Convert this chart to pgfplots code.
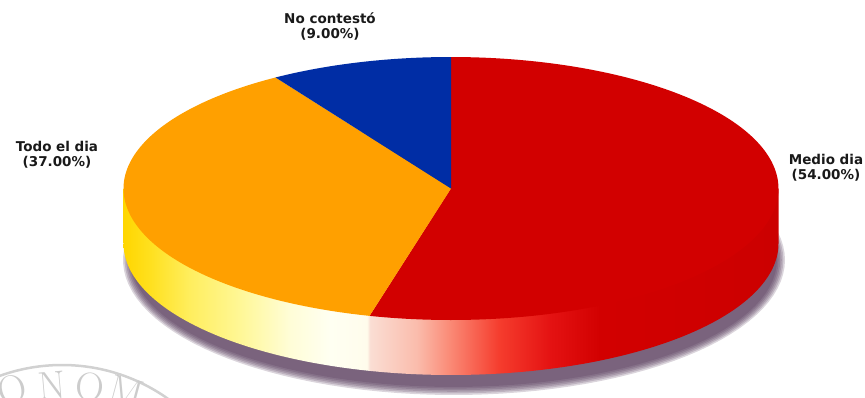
\documentclass[border=0pt]{standalone}
\usepackage{pgfplots}
\pgfplotsset{compat=1.18}
\usepackage{fontspec}
\newfontfamily\lab{DejaVu Sans}
\definecolor{cRed}{RGB}{210,0,0}
\definecolor{cOrange}{RGB}{255,160,0}
\definecolor{cBlue}{RGB}{0,45,165}
\definecolor{cShadow}{RGB}{75,45,80}
\definecolor{sY0}{RGB}{255,214,0}
\definecolor{sY1}{RGB}{255,224,30}
\definecolor{sY2}{RGB}{255,238,95}
\definecolor{sY3}{RGB}{255,247,150}
\definecolor{sY4}{RGB}{255,253,215}
\definecolor{sY5}{RGB}{255,255,242}
\definecolor{sY6}{RGB}{255,252,236}
\definecolor{sR0}{RGB}{250,222,212}
\definecolor{sR1}{RGB}{250,188,172}
\definecolor{sR2}{RGB}{250,138,118}
\definecolor{sR3}{RGB}{245,60,45}
\definecolor{sR4}{RGB}{228,18,18}
\definecolor{sR5}{RGB}{210,0,0}
\definecolor{sR6}{RGB}{204,0,0}
\pgfdeclarehorizontalshading{pieside}{100bp}{color(0bp)=(sY0); color(25bp)=(sY0); color(27bp)=(sY1); color(30.1bp)=(sY2); color(33.9bp)=(sY3); color(37.7bp)=(sY4); color(40.8bp)=(sY5); color(43.6bp)=(sY6); color(43.8bp)=(sR0); color(47.4bp)=(sR1); color(49.9bp)=(sR2); color(53.7bp)=(sR3); color(57.6bp)=(sR4); color(61.4bp)=(sR5); color(75bp)=(sR6); color(100bp)=(sR6)}
% data (percent)
\def\vMedio{54}
\def\vTodo{37}
\def\vNo{9}
\pgfmathsetmacro\aA{90-3.6*\vMedio}
\pgfmathsetmacro\aB{\aA-3.6*\vTodo}
\pgfmathsetmacro\aBp{\aB+360}
\pgfmathsetmacro\aAp{\aA+360}
\begin{document}
\begin{tikzpicture}
\clip (0,0) rectangle (865pt,397pt);
\begin{axis}[at={(0,0)},anchor=south west,width=865pt,height=397pt,scale only axis,
  xmin=0,xmax=865,ymin=0,ymax=397,hide axis,clip=false]
% shadow
\pgfplotsinvokeforeach{0,1,2,3,4,5}{
\addplot[draw=none,fill=cShadow,fill opacity=0.2,domain=0:360,samples=120]
  ({454+(323+1.6*#1)*cos(x)},{137+(127+1.6*#1)*sin(x)}) -- cycle;
}
% side
\addplot[draw=none,shading=pieside,domain=180:360,samples=150]
  ({451+327.5*cos(x)},{153.5+131.5*sin(x)}) -- (axis cs:778.5,208.5) -- (axis cs:123.5,208.5) -- cycle;
% top face
\addplot[draw=none,fill=cRed,domain=\aA:90,samples=150]
  ({451+327.5*cos(x)},{208.5+131.5*sin(x)}) -- (axis cs:451,208.5) -- cycle;
\addplot[draw=none,fill=cOrange,domain=\aBp:\aAp,samples=120]
  ({451+327.5*cos(x)},{208.5+131.5*sin(x)}) -- (axis cs:451,208.5) -- cycle;
\addplot[draw=none,fill=cBlue,domain=90:\aBp,samples=40]
  ({451+327.5*cos(x)},{208.5+131.5*sin(x)}) -- (axis cs:451,208.5) -- cycle;
% labels
\node[align=center,font=\lab\bfseries\fontsize{13.5}{15}\selectfont,text=black!90] at (axis cs:330,371) {No contestó\\(9.00\%)};
\node[align=center,font=\lab\bfseries\fontsize{13.5}{15}\selectfont,text=black!90] at (axis cs:57,242) {Todo el dia\\(37.00\%)};
\node[align=center,font=\lab\bfseries\fontsize{13.5}{15}\selectfont,text=black!90] at (axis cs:826,229) {Medio dia\\(54.00\%)};
% watermark
\draw[black!18,line width=2.5pt] (axis cs:62,-151) circle[radius=183pt];
\node[black!20,font=\fontsize{40}{40}\selectfont,rotate=14] at (axis cs:12,7) {O};
\node[black!20,font=\fontsize{40}{40}\selectfont,rotate=5] at (axis cs:52,11) {N};
\node[black!20,font=\fontsize{40}{40}\selectfont,rotate=-5] at (axis cs:90,10) {O};
\node[black!20,font=\fontsize{40}{40}\selectfont,rotate=-15] at (axis cs:126,5) {M};
\end{axis}
\end{tikzpicture}
\end{document}
